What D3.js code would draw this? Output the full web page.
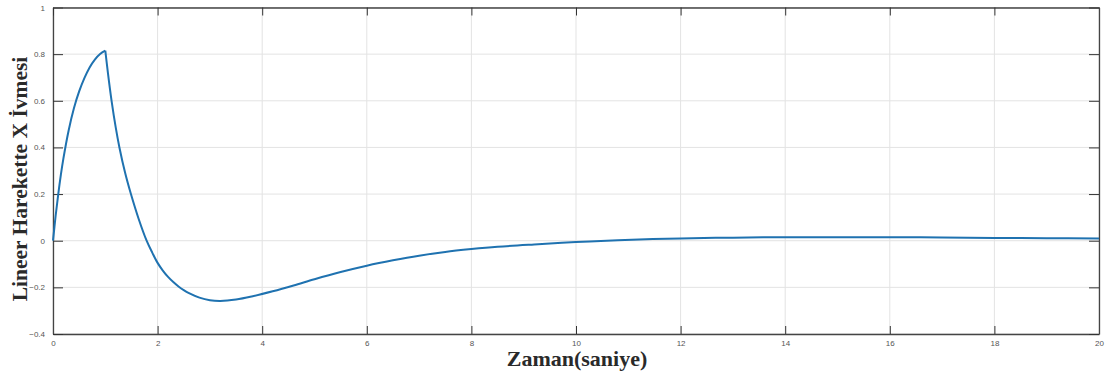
<!DOCTYPE html>
<html>
<head>
<meta charset="utf-8">
<script src="https://cdn.jsdelivr.net/npm/d3@7"></script>
<style>
  body { margin: 0; background: #fff; }
  svg { display: block; }
  .tick text { font-family: "Liberation Sans", Arial, sans-serif; font-size: 8px; fill: #555; }
</style>
</head>
<body>
<svg id="chart"></svg>
<script>
// values
let timeRise = [0, 0.05, 0.1, 0.15, 0.2, 0.3, 0.4, 0.5, 0.6, 0.7, 0.8, 0.9, 1.0];
let accelRise = [0, 0.106, 0.199, 0.282, 0.354, 0.474, 0.568, 0.64, 0.697, 0.743, 0.777, 0.801, 0.815];
let timeDecay = [1.0, 1.05, 1.12, 1.2, 1.27, 1.38, 1.49, 1.64, 1.79, 1.9, 2.0, 2.1, 2.2, 2.3, 2.4, 2.5, 2.6, 2.8, 3.0, 3.2, 3.5, 3.8, 4.2, 4.6, 5.0, 5.5, 6.0, 6.5, 7.0, 7.5, 8.0, 8.5, 9.2, 10, 10.8, 12, 13, 14, 15, 16, 17, 18, 19, 20];
let accelDecay = [0.815, 0.72, 0.6, 0.485, 0.4, 0.29, 0.2, 0.092, 0.0, -0.052, -0.095, -0.128, -0.155, -0.177, -0.196, -0.212, -0.225, -0.244, -0.255, -0.258, -0.252, -0.239, -0.217, -0.192, -0.165, -0.134, -0.107, -0.084, -0.064, -0.048, -0.036, -0.026, -0.016, -0.006, 0.002, 0.01, 0.013, 0.015, 0.015, 0.015, 0.014, 0.012, 0.011, 0.009];
let xTicks = [0, 2, 4, 6, 8, 10, 12, 14, 16, 18, 20];
let yTicks = [-0.4, -0.2, 0, 0.2, 0.4, 0.6, 0.8, 1];
let xTitle = "Zaman(saniye)";
let yTitle = "Lineer Harekette X İvmesi";

let w = 1108, h = 378;
let padL = 53, padR = 1099, padT = 7.5, padB = 334;

let svg = d3.select("#chart").attr("width", w).attr("height", h);

let x = d3.scaleLinear().domain([0, 20]).range([padL, padR]);
let y = d3.scaleLinear().domain([-0.4, 1]).range([padB, padT]);

// grid
svg.append("g").selectAll("line").data(xTicks).enter().append("line")
  .attr("x1", d => x(d)).attr("x2", d => x(d))
  .attr("y1", padT).attr("y2", padB)
  .attr("stroke", "#e3e3e3").attr("stroke-width", 1);
svg.append("g").selectAll("line").data(yTicks).enter().append("line")
  .attr("x1", padL).attr("x2", padR)
  .attr("y1", d => y(d)).attr("y2", d => y(d))
  .attr("stroke", "#e3e3e3").attr("stroke-width", 1);

// axes, ticks pointing inward like matlab
let xAxis = d3.axisBottom(x).tickValues(xTicks).tickSizeInner(-8).tickSizeOuter(0).tickPadding(6).tickFormat(d3.format("d"));
let yAxis = d3.axisLeft(y).tickValues(yTicks).tickSizeInner(-10).tickSizeOuter(0).tickPadding(8).tickFormat(d => d === 0 || d === 1 ? String(d) : d3.format(".1f")(d));
let xTop = d3.axisTop(x).tickValues(xTicks).tickSizeInner(-8).tickSizeOuter(0).tickFormat("");
let yRight = d3.axisRight(y).tickValues(yTicks).tickSizeInner(-10).tickSizeOuter(0).tickFormat("");

svg.append("g").attr("transform", "translate(0," + padB + ")").call(xAxis);
svg.append("g").attr("transform", "translate(" + padL + ",0)").call(yAxis);
svg.append("g").attr("transform", "translate(0," + padT + ")").call(xTop);
svg.append("g").attr("transform", "translate(" + padR + ",0)").call(yRight);

svg.selectAll(".domain").attr("stroke", "#444").attr("stroke-width", 1.3);
svg.selectAll(".tick line").attr("stroke", "#333").attr("stroke-width", 1);

// curve: rise and decay drawn separately so the peak stays sharp
let line = d3.line().x(d => x(d[0])).y(d => y(d[1])).curve(d3.curveCatmullRom.alpha(0.5));
let rise = d3.zip(timeRise, accelRise);
let decay = d3.zip(timeDecay, accelDecay);
[rise, decay].forEach(function(seg) {
  svg.append("path").datum(seg)
    .attr("d", line)
    .attr("fill", "none")
    .attr("stroke", "#1f72b0")
    .attr("stroke-width", 2)
    .attr("stroke-linejoin", "round");
});

// titles
svg.append("text")
  .attr("x", (padL + padR) / 2 + 1).attr("y", 366)
  .attr("text-anchor", "middle")
  .attr("font-family", "'Liberation Serif', 'Times New Roman', serif")
  .attr("font-weight", "bold").attr("font-size", "22px")
  .attr("fill", "#2a2a2a")
  .text(xTitle);

svg.append("text")
  .attr("transform", "translate(27,179) rotate(-90)")
  .attr("text-anchor", "middle")
  .attr("font-family", "'Liberation Serif', 'Times New Roman', serif")
  .attr("font-weight", "bold").attr("font-size", "21.5px")
  .attr("fill", "#2a2a2a")
  .text(yTitle);
</script>
</body>
</html>
